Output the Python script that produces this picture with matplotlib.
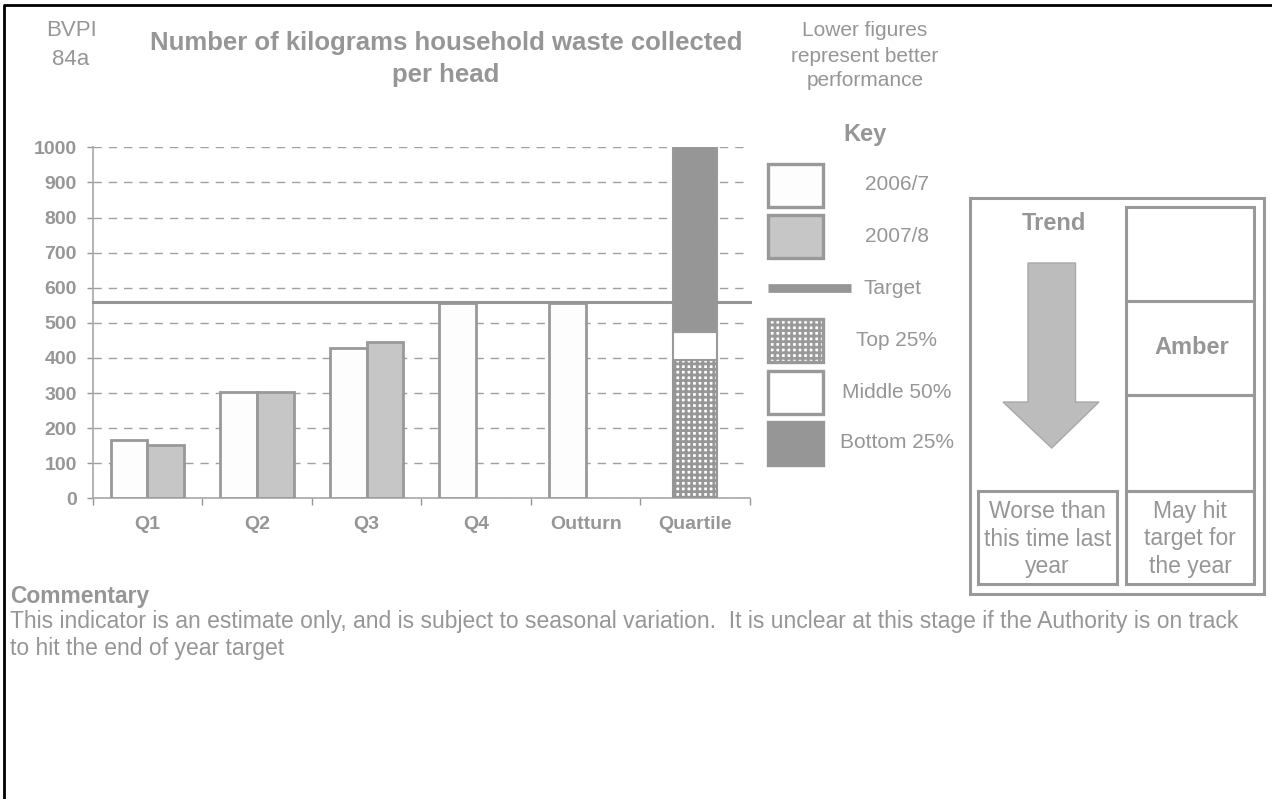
import numpy as np
import matplotlib
matplotlib.use("Agg")
import matplotlib.pyplot as plt
from matplotlib.patches import Rectangle, Polygon

plt.rcParams['font.family'] = ['Liberation Sans', 'DejaVu Sans']
plt.rcParams['hatch.linewidth'] = 2.0

# -----------------------------
# DATA
# -----------------------------
categories = ["Q1", "Q2", "Q3", "Q4", "Outturn", "Quartile"]
values_0607 = [166, 302, 427, 557, 557]
values_0708 = [152, 304, 446]
target = 560
quartile_top = 394
quartile_mid = 475
quartile_bottom = 1000
yticks = list(range(0, 1001, 100))

GREY = "#969696"
EDGE = "#999999"
CHECK = "+++"

fig = plt.figure(figsize=(12.72, 7.99), dpi=100)

# -----------------------------
# MAIN CHART
# -----------------------------
W, H = 1272, 799
ax = fig.add_axes([92.7 / W, 1 - 498.3 / H, (750 - 92.7) / W, (498.3 - 147.3) / H])
x = np.arange(len(categories))
bw = 0.335

ax.bar(x[:5] - bw / 2, values_0607, bw, color="#fdfdfd", edgecolor=EDGE, linewidth=2, zorder=3)
ax.bar(x[:3] + bw / 2, values_0708, bw, color="#c6c6c6", edgecolor=EDGE, linewidth=2, zorder=3)

qw = 0.4
ax.bar(x[5], quartile_top, qw, color="white", edgecolor=GREY, hatch=CHECK, linewidth=1.5, zorder=3)
ax.bar(x[5], quartile_mid - quartile_top, qw, bottom=quartile_top, color="white",
       edgecolor=EDGE, linewidth=1.5, zorder=3)
ax.bar(x[5], quartile_bottom - quartile_mid, qw, bottom=quartile_mid, color=GREY,
       edgecolor=EDGE, linewidth=1.5, zorder=3)

ax.axhline(target, color=GREY, linewidth=2.2, zorder=4, clip_on=False)

ax.set_xlim(-0.5, len(categories) - 0.5)
ax.set_ylim(0, 1000)
ax.set_yticks(yticks)
ax.set_xticks(x)
ax.set_xticklabels(categories, fontsize=14, fontweight="bold", color=GREY)
ax.set_xticks(np.arange(len(categories) + 1) - 0.5, minor=True)
ax.tick_params(axis="x", which="major", length=0, pad=13)
ax.tick_params(axis="x", which="minor", length=5, color=GREY, width=1)
ax.tick_params(axis="y", length=4.5, color=GREY, width=1, labelsize=14, labelcolor=GREY, pad=7)
for lab in ax.get_yticklabels():
    lab.set_fontweight("bold")
ax.yaxis.grid(True, linestyle=(0, (6, 5)), color="#a0a0a0", linewidth=1, zorder=0)
ax.set_axisbelow(True)
for s in ["top", "right"]:
    ax.spines[s].set_visible(False)
for s in ["left", "bottom"]:
    ax.spines[s].set_color("#a8a8a8")
    ax.spines[s].set_linewidth(1.2)

# -----------------------------
# OVERLAY (text, key, trend box)
# -----------------------------
ov = fig.add_axes([0, 0, 1, 1], zorder=-1)
ov.set_xlim(0, W)
ov.set_ylim(H, 0)
ov.axis("off")

# page border (left and top only)
ov.plot([4, 4, W], [H, 5, 5], color="black", linewidth=2, clip_on=False)

ov.text(71, 45, "BVPI\n84a", ha="center", va="center", fontsize=16, color=GREY, linespacing=1.55)
ov.text(446, 59, "Number of kilograms household waste collected\nper head", ha="center", va="center",
        fontsize=18.5, fontweight="bold", color=GREY, linespacing=1.43)
ov.text(865, 56, "Lower figures\nrepresent better\nperformance", ha="center", va="center",
        fontsize=15, color=GREY, linespacing=1.4)
ov.text(865, 134, "Key", ha="center", va="center", fontsize=17, fontweight="bold", color=GREY)

# key
key_items = [("2006/7", "#fdfdfd", None, 185),
             ("2007/8", "#c6c6c6", None, 236),
             ("Top 25%", "white", CHECK, 340),
             ("Middle 50%", "white", None, 392),
             ("Bottom 25%", GREY, None, 443)]
for label, fc, hatch, yc in key_items:
    ov.add_patch(Rectangle((768, yc - 21.5), 55, 43, facecolor=fc,
                           edgecolor=EDGE if label != "Bottom 25%" else GREY,
                           linewidth=2.4, hatch=hatch))
    ov.text(897, yc, label, ha="center", va="center", fontsize=15, color=GREY)
ov.plot([768, 851], [288, 288], color=GREY, linewidth=6.3, solid_capstyle="butt")
ov.text(893, 288, "Target", ha="center", va="center", fontsize=15, color=GREY)

# trend box
ov.add_patch(Rectangle((969.5, 197.5), 294, 396, facecolor="white", edgecolor=EDGE, linewidth=2.2))
for y0, y1 in [(206.7, 300.7), (300.7, 395), (395, 491), (491, 584)]:
    ov.add_patch(Rectangle((1126, y0), 128.3, y1 - y0, facecolor="none", edgecolor=EDGE, linewidth=2.2))
ov.add_patch(Rectangle((978.3, 491), 138.4, 93, facecolor="none", edgecolor=EDGE, linewidth=2.2))
ov.text(1053.5, 223, "Trend", ha="center", va="center", fontsize=17, fontweight="bold", color=GREY)
ov.text(1192, 348, "Amber", ha="center", va="center", fontsize=17, fontweight="bold", color=GREY)
arrow = [(1028, 263), (1075.5, 263), (1075.5, 402), (1099, 402), (1051.7, 448),
         (1003, 402), (1028, 402)]
ov.add_patch(Polygon(arrow, closed=True, facecolor="#bcbcbc", edgecolor="#a8a8a8", linewidth=1))
ov.text(1047.5, 539, "Worse than\nthis time last\nyear", ha="center", va="center",
        fontsize=16.5, color=GREY, linespacing=1.27)
ov.text(1190, 539, "May hit\ntarget for\nthe year", ha="center", va="center",
        fontsize=16.5, color=GREY, linespacing=1.27)

# commentary
ov.text(10, 596, "Commentary", ha="left", va="center", fontsize=16.5, fontweight="bold", color=GREY)
ov.text(10, 635, "This indicator is an estimate only, and is subject to seasonal variation.  "
        "It is unclear at this stage if the Authority is on track\nto hit the end of year target",
        ha="left", va="center", fontsize=16.5, color=GREY, linespacing=1.22)

fig.savefig("out.png", dpi=100)
